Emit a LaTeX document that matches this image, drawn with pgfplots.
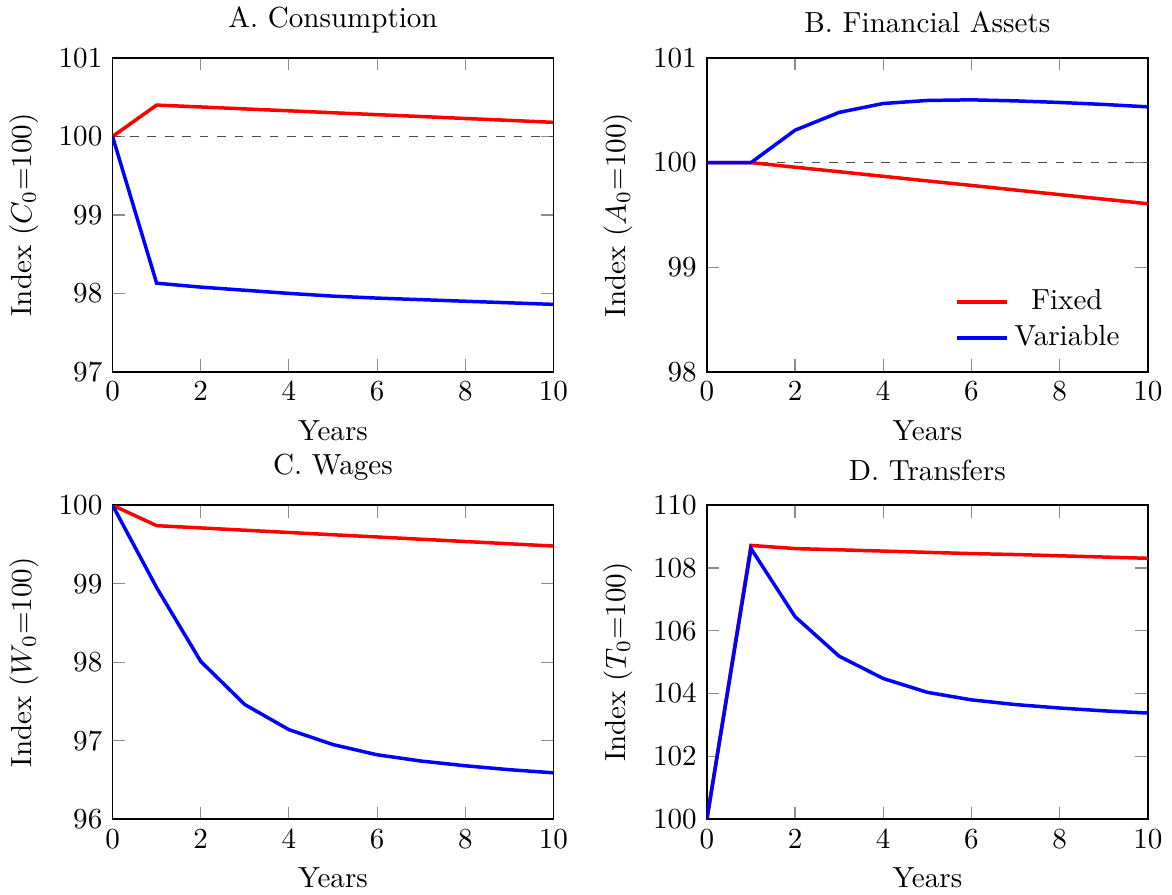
\documentclass[border=0pt]{standalone}
\usepackage{pgfplots}
\pgfplotsset{compat=1.18}
\usepgfplotslibrary{groupplots}
\begin{document}
\begin{tikzpicture}
\begin{groupplot}[
  group style={group size=2 by 2, horizontal sep=52.8pt, vertical sep=45.9pt},
  scale only axis, width=151.7pt, height=108pt,
  xmin=0, xmax=10, xtick={0,2,4,6,8,10},
  xlabel={Years},
  title style={inner ysep=2.33pt},
  xlabel style={inner ysep=2.2pt, yshift=-1.13pt},
  axis line style={black, semithick},
  tick style={black!45, thin},
  every axis plot/.append style={very thick},
  legend cell align=center,
]
\nextgroupplot[title={A. Consumption}, ymin=97, ymax=101, ytick={97,98,99,100,101}, ylabel={Index ($C_0$=100)}]
\addplot[black!70, thin, dashed] coordinates {(0,100) (10,100)};
\addplot[red] coordinates {(0,100) (1,100.40) (2,100.376) (3,100.351) (4,100.327) (5,100.302) (6,100.278) (7,100.254) (8,100.229) (9,100.205) (10,100.18)};
\addplot[blue] coordinates {(0,100) (1,98.13) (2,98.08) (3,98.04) (4,98.00) (5,97.965) (6,97.94) (7,97.92) (8,97.90) (9,97.88) (10,97.86)};
\nextgroupplot[title={B. Financial Assets}, ymin=98, ymax=101, ytick={98,99,100,101}, ylabel={Index ($A_0$=100)},
  legend style={draw=none, fill=none, at={(0.97,0.03)}, anchor=south east}]
\addplot[black!70, thin, dashed, forget plot] coordinates {(0,100) (10,100)};
\addplot[red] coordinates {(0,100) (1,100) (2,99.956) (3,99.913) (4,99.869) (5,99.825) (6,99.782) (7,99.738) (8,99.694) (9,99.651) (10,99.607)};
\addplot[blue] coordinates {(0,100) (1,100) (2,100.31) (3,100.48) (4,100.565) (5,100.594) (6,100.60) (7,100.59) (8,100.575) (9,100.556) (10,100.533)};
\legend{Fixed, Variable}
\nextgroupplot[title={C. Wages}, ymin=96, ymax=100, ytick={96,97,98,99,100}, ylabel={Index ($W_0$=100)}]
\addplot[red] coordinates {(0,100) (1,99.74) (2,99.711) (3,99.682) (4,99.653) (5,99.624) (6,99.596) (7,99.567) (8,99.538) (9,99.509) (10,99.48)};
\addplot[blue] coordinates {(0,100) (1,98.95) (2,98.01) (3,97.46) (4,97.14) (5,96.95) (6,96.82) (7,96.74) (8,96.68) (9,96.63) (10,96.59)};
\nextgroupplot[title={D. Transfers}, ymin=100, ymax=110, ytick={100,102,104,106,108,110}, ylabel={Index ($T_0$=100)}]
\addplot[red] coordinates {(0,100) (1,108.72) (2,108.62) (3,108.58) (4,108.54) (5,108.50) (6,108.46) (7,108.43) (8,108.39) (9,108.35) (10,108.31)};
\addplot[blue] coordinates {(0,100) (1,108.62) (2,106.45) (3,105.19) (4,104.48) (5,104.04) (6,103.80) (7,103.65) (8,103.54) (9,103.45) (10,103.38)};
\end{groupplot}
\end{tikzpicture}
\end{document}
